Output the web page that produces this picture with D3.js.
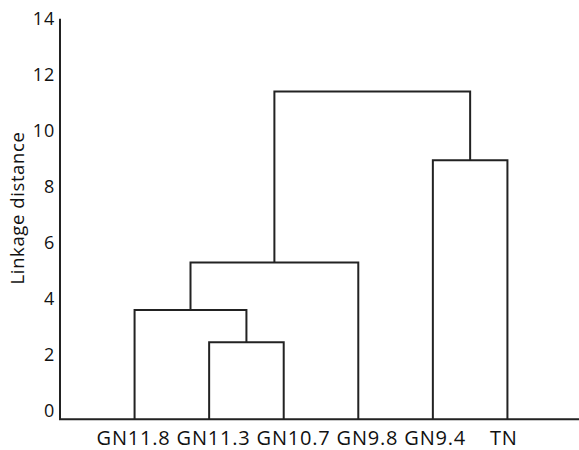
<!DOCTYPE html>
<html><head><meta charset="utf-8">
<script src="https://cdn.jsdelivr.net/npm/d3@7"></script>
<style>
html,body{margin:0;padding:0;background:#fff;}
svg{display:block;font-family:"Open Sans", sans-serif;}
.xlab{white-space:pre;}
</style></head>
<body>
<svg id="chart" width="579" height="450"></svg>
<script>
// Leaves in display order
const leaves = ["GN11.8", "GN11.3", "GN10.7", "GN9.8", "GN9.4", "TN"];
// Merges: each joins two clusters (leaf index 0..5, or 6+k for merge k) at a linkage distance
const mergeLeft  = [1, 0, 7, 4, 8];
const mergeRight = [2, 6, 3, 5, 9];
const mergeHeight = [2.45, 3.6, 5.3, 8.95, 11.4];
const yTicks = [0, 2, 4, 6, 8, 10, 12, 14];
const yTitle = "Linkage distance";

const svg = d3.select("#chart");
const x = d3.scalePoint().domain(leaves).range([60, 582]).padding(1);
const y = d3.scaleLinear().domain([0, 14]).range([411, 18.7]);
const baseY = y(-0.29);

// node positions
const nodes = leaves.map(l => ({x: x(l), h: null}));
mergeHeight.forEach((h, k) => {
  const a = nodes[mergeLeft[k]], b = nodes[mergeRight[k]];
  nodes.push({x: (a.x + b.x) / 2, h: h, a: a, b: b});
});
const yOf = n => n.h === null ? baseY : y(n.h);

const g = svg.append("g");
const stroke = "#222";
nodes.filter(n => n.h !== null).forEach(n => {
  const yy = y(n.h);
  const p = `M${n.a.x},${yOf(n.a)}V${yy}H${n.b.x}V${yOf(n.b)}`;
  g.append("path").attr("d", p).attr("fill", "none")
   .attr("stroke", stroke).attr("stroke-width", 2);
});

// axes
svg.append("path").attr("d", `M60,${y(14)}V${baseY}H579`).attr("fill", "none")
  .attr("stroke", stroke).attr("stroke-width", 2);

const yAxis = d3.axisLeft(y).tickValues(yTicks).tickSize(0).tickPadding(0);
const ya = svg.append("g").attr("transform", "translate(55,0)").call(yAxis);
ya.select(".domain").remove();
ya.selectAll("text").attr("font-size", 18).attr("fill", "#111")
  .attr("letter-spacing", 0.8)
  .attr("font-family", "'Open Sans', sans-serif");

// x labels set as one line of text, as in the original figure
const firstLeft = x(leaves[0]) - 38;
const lastRight = x(leaves[leaves.length - 1]) + 9.5;
svg.append("text").attr("class", "xlab")
  .attr("x", firstLeft).attr("y", 445)
  .attr("font-size", 20).attr("fill", "#111")
  .attr("textLength", lastRight - firstLeft).attr("lengthAdjust", "spacing")
  .text(leaves.slice(0, -1).join(" ") + "    " + leaves[leaves.length - 1]);

svg.append("text").attr("transform", "translate(24,208) rotate(-90)")
  .attr("text-anchor", "middle").attr("font-size", 18.5).attr("fill", "#111")
  .attr("letter-spacing", 0.6)
  .text(yTitle);
</script>
</body></html>
